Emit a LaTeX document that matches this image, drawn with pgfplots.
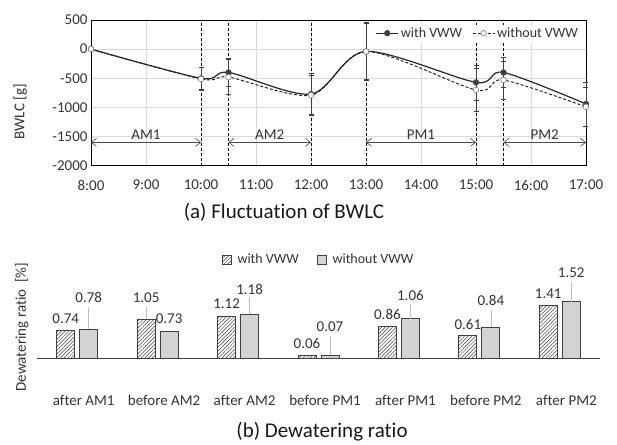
\documentclass[border=0pt]{standalone}
\usepackage{pgfplots}
\usepackage{pgfplotstable}
\pgfplotsset{compat=1.18}
\usepackage{fontspec}
\setmainfont{Carlito}[Ligatures=CommonOff]
\usetikzlibrary{patterns.meta, arrows.meta}

\definecolor{gridgray}{HTML}{D9D9D9}
\definecolor{dk}{HTML}{404040}
\definecolor{leader}{HTML}{BFBFBF}
\definecolor{txt}{HTML}{333333}

\pgfplotsset{sqlegend/.style={legend image code/.code={\draw[##1] (0pt,-4.5pt) rectangle (9pt,4.5pt);}}}

\pgfplotstableread{
x y e
8 0 0
10 -500 190
10.5 -400 240
12 -770 350
13 -40 500
15 -570 300
15.5 -400 260
17 -940 380
}\withVWW
\pgfplotstableread{
x y e
8 0 0
10 -510 200
10.5 -480 300
12 -790 340
13 -40 480
15 -700 370
15.5 -530 330
17 -990 340
}\withoutVWW

\pgfplotstableread{
k with without
0 0.74 0.78
1 1.05 0.73
2 1.12 1.18
3 0.06 0.07
4 0.86 1.06
5 0.61 0.84
6 1.41 1.52
}\ratio

\begin{document}
\begin{tikzpicture}
\useasboundingbox (0pt,0pt) rectangle (617pt,444pt);

% ---------- (a) ----------
\begin{axis}[
  at={(91pt,278.3pt)}, anchor=south west, scale only axis,
  width=495pt, height=145.7pt,
  xmin=8, xmax=17, ymin=-2000, ymax=500,
  xtick={8,...,17},
  xticklabels={8:00,9:00,10:00,11:00,12:00,13:00,14:00,15:00,16:00,17:00},
  ytick={-2000,-1500,-1000,-500,0,500},
  yticklabels={-2000,-1500,-1000,-500,0,500},
  major tick length=0pt,
  grid=major, major grid style={gridgray, line width=0.8pt},
  axis line style={black, line width=0.8pt},
  tick label style={font=\fontsize{15}{18}\selectfont, text=txt},
  xticklabel style={yshift=-11pt},
  extra x ticks={10,10.5,12,13,15,15.5}, extra x tick labels={},
  extra x tick style={grid=major, major grid style={black, line width=0.7pt, dash pattern=on 3pt off 2pt}},
  legend style={at={(0.99,0.97)}, anchor=north east, draw=none, fill=white,
    font=\fontsize{14}{16}\selectfont, text=txt, inner sep=1pt,
    /tikz/every even column/.append style={column sep=8pt}},
  legend columns=2,
  legend image code/.code={\draw[mark repeat=2,mark phase=2,#1] plot coordinates {(0pt,0pt) (11pt,0pt) (22pt,0pt)};},
  ylabel={BWLC [g]},
  ylabel style={font=\fontsize{15}{18}\selectfont, text=txt, at={(axis description cs:-0.143,0.37)}, anchor=center},
  clip=false,
]
\addplot[line width=0.6pt, color=black!70, {Straight Barb[length=5pt,width=8pt]}-{Straight Barb[length=5pt,width=8pt]}, forget plot]
  coordinates {(8,-1600) (10,-1600)} node[pos=0.5, anchor=base, yshift=3pt, text=txt, font=\fontsize{15}{18}\selectfont] {AM1};
\addplot[line width=0.6pt, color=black!70, {Straight Barb[length=5pt,width=8pt]}-{Straight Barb[length=5pt,width=8pt]}, forget plot]
  coordinates {(10.5,-1600) (12,-1600)} node[pos=0.5, anchor=base, yshift=3pt, text=txt, font=\fontsize{15}{18}\selectfont] {AM2};
\addplot[line width=0.6pt, color=black!70, {Straight Barb[length=5pt,width=8pt]}-{Straight Barb[length=5pt,width=8pt]}, forget plot]
  coordinates {(13,-1600) (15,-1600)} node[pos=0.5, anchor=base, yshift=3pt, text=txt, font=\fontsize{15}{18}\selectfont] {PM1};
\addplot[line width=0.6pt, color=black!70, {Straight Barb[length=5pt,width=8pt]}-{Straight Barb[length=5pt,width=8pt]}, forget plot]
  coordinates {(15.5,-1600) (17,-1600)} node[pos=0.5, anchor=base, yshift=3pt, text=txt, font=\fontsize{15}{18}\selectfont] {PM2};

\addplot[smooth, tension=0.5, color=black!85, line width=1.2pt,
  mark=*, mark size=2.8pt, mark options={fill=dk, draw=dk, solid, line width=0.6pt},
  error bars/.cd, y dir=both, y explicit,
  error bar style={dk, line width=0.5pt, solid},
  error mark options={rotate=90, mark size=2.5pt, dk, line width=0.5pt}]
  table[x=x, y=y, y error=e]{\withVWW};
\addlegendentry{with VWW}
\addplot[smooth, tension=0.5, color=black!85, line width=1pt, dash pattern=on 3pt off 2pt,
  mark=*, mark size=2.8pt, mark options={fill=white, draw=gray, solid, line width=0.6pt},
  error bars/.cd, y dir=both, y explicit,
  error bar style={dk, line width=0.5pt, solid},
  error mark options={rotate=90, mark size=2.5pt, dk, line width=0.5pt}]
  table[x=x, y=y, y error=e]{\withoutVWW};
\addlegendentry{without VWW}
\end{axis}

\node[font=\fontsize{21}{25}\selectfont, text=black!90] at (284pt,232pt) {(a) Fluctuation of BWLC};

% ---------- (b) ----------
\begin{axis}[
  at={(37pt,58.25pt)}, anchor=south west, scale only axis,
  width=563pt, height=135.05pt,
  xmin=-0.5, xmax=6.5, ymin=-0.75, ymax=2.9,
  axis line style={draw=none},
  ytick=\empty,
  xtick={0,...,6},
  xticklabels={after AM1, before AM2, after AM2, before PM1, after PM1, before PM2, after PM2},
  major tick length=0pt,
  xticklabel style={font=\fontsize{15}{18}\selectfont, text=txt, xshift=6.5pt, yshift=-6pt},
  extra y ticks={0}, extra y tick labels={},
  extra y tick style={grid=major, major grid style={black!75, line width=0.8pt}},
  legend style={at={(0.5,1)}, anchor=north, draw=none, fill=none,
    font=\fontsize{14}{16}\selectfont, text=txt, inner sep=1pt,
    /tikz/every odd column/.append style={column sep=4pt},
    /tikz/every even column/.append style={column sep=16pt}},
  legend columns=2,
  ylabel={Dewatering ratio\ \ [\%]},
  ylabel style={font=\fontsize{15}{18}\selectfont, text=txt, at={(axis description cs:-0.027,0.435)}, anchor=center},
  clip=false,
]
\addplot[ybar, bar width=18pt, bar shift=-11.5pt, draw=dk, line width=0.8pt,
  pattern={Lines[angle=45, distance=2.6pt, line width=0.5pt]}, pattern color=dk, sqlegend]
  table[x=k, y=with]{\ratio};
\addlegendentry{with VWW}
\addplot[ybar, bar width=18pt, bar shift=11.5pt, draw=dk, line width=0.8pt,
  pattern={Dots[distance=2pt, radius=0.55pt]}, pattern color=dk, sqlegend]
  table[x=k, y=without]{\ratio};
\addlegendentry{without VWW}

\addplot[leader, line width=0.7pt, forget plot, unbounded coords=jump] coordinates {
 (0.143,0.78) (0.143,1.378) (0.143,nan)
 (0.857,1.05) (0.857,1.378) (0.857,nan)
 (2.143,1.18) (2.143,1.649) (2.143,nan)
 (3.143,0.07) (3.143,0.595) (3.143,nan)
 (4.143,1.06) (4.143,1.459) (4.143,nan)
 (5.143,0.84) (5.143,1.297) (5.143,nan)
 (6.143,1.52) (6.143,2.054)
};

\begin{scope}[every node/.style={font=\fontsize{15}{18}\selectfont, text=txt, inner sep=0pt}]
\node at (axis cs:-0.143,1.073) {0.74};
\node at (axis cs:0.143,1.64) {0.78};
\node at (axis cs:0.857,1.64) {1.05};
\node at (axis cs:1.143,1.073) {0.73};
\node at (axis cs:1.857,1.46) {1.12};
\node at (axis cs:2.143,1.857) {1.18};
\node at (axis cs:2.857,0.397) {0.06};
\node at (axis cs:3.143,0.846) {0.07};
\node at (axis cs:3.857,1.19) {0.86};
\node at (axis cs:4.143,1.70) {1.06};
\node at (axis cs:4.857,0.919) {0.61};
\node at (axis cs:5.143,1.549) {0.84};
\node at (axis cs:5.857,1.749) {1.41};
\node at (axis cs:6.143,2.305) {1.52};
\end{scope}
\end{axis}

\node[font=\fontsize{21}{25}\selectfont, text=black!90] at (322pt,12pt) {(b) Dewatering ratio};
\end{tikzpicture}
\end{document}
